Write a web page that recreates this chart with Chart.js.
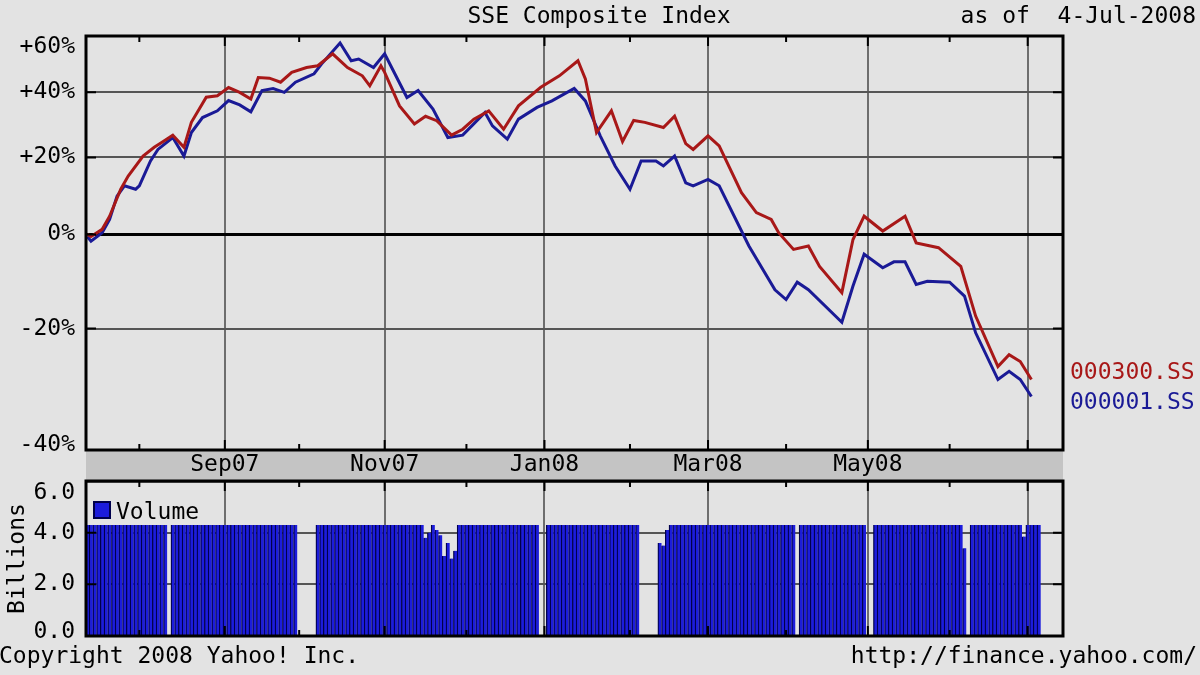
<!DOCTYPE html>
<html>
<head>
<meta charset="utf-8">
<script src="https://cdn.jsdelivr.net/npm/chart.js@4.4.0/dist/chart.umd.min.js"></script>
<style>
  html, body { margin: 0; padding: 0; background: #e3e3e3; }
  #wrap { position: relative; width: 1200px; height: 675px; overflow: hidden; }
  #wrap canvas { position: absolute; left: 0; top: 0; }
</style>
</head>
<body>
<div id="wrap">
  <canvas id="volChart" width="1200" height="675"></canvas>
  <canvas id="idxChart" width="1200" height="675"></canvas>
</div>
<script>
// x axis = weekdays counted from 12-Jul-2007
var monthDays = [14, 37, 57, 80, 102, 123, 146, 167, 188, 210, 232, 253];
var monthLabels = ["", "Sep07", "", "Nov07", "", "Jan08", "", "Mar08", "", "May08", "", ""];
var pctTicks = [-40, -20, 0, 20, 40, 60];
var volTicks = [0, 2, 4, 6];

// 000300.SS, % change
var csi300Days = [0,1,4,6,9,11,15,18,20,23, 26,28,32,35,38,41,44,46,49,52, 55,59,62,66,70,74,76,79,80,84,
  88,91,94,98,101,104,108,112,116,122, 127,132,134,137,141,144,147,150,155,158, 161,163,167,170,176,180,184,186,190,194,
  197,203,206,209,214,220,223,229,235,239, 245,248,251,254];
var csi300Pct = [0,-0.5,1.2,4.4,11.3,14.8,20.4,22.9,24.3,26.5, 22.9,30.4,38.4,38.9,41.6,40.0,37.8,45.0,44.8,43.4,
  46.8,48.5,49.1,53.4,48.5,45.6,42.2,49.1,46.8,35.6, 29.9,32.3,30.9,26.5,28.3,31.4,34.0,28.3,35.6,41.7,
  45.6,50.9,44.5,27.3,34.0,24.6,31.0,30.4,28.8,32.3, 24.0,22.3,26.3,23.3,10.4,5.3,3.6,0.4,-3.5,-2.7,
  -7.3,-12.9,-1.2,4.4,0.8,4.4,-2.0,-3.1,-7.3,-17.6, -26.9,-24.8,-26.0,-29.1];

// 000001.SS, % change
var sseDays = [0,1,4,6,8,10,13,14,17,19, 23,26,28,31,35,38,41,44,47,50, 53,56,61,63,68,71,73,77,80,86,
  89,93,97,101,107,109,113,116,121,125, 131,134,138,142,146,149,153,155,158,161, 163,167,170,178,185,188,191,194,203,206,
  209,214,217,220,223,226,232,236,239,245, 248,251,254];
var ssePct = [-0.5,-1.6,0.4,3.6,9.5,12.2,11.3,12.2,19.0,22.3, 25.8,20.4,27.3,31.9,34.0,37.3,35.9,33.7,40.6,41.3,
  40.0,43.4,46.3,49.7,57.4,50.9,51.5,48.5,53.4,38.3, 40.6,34.6,25.8,26.5,33.5,29.3,25.3,31.4,35.1,37.2,
  41.3,37.2,26.3,17.6,11.3,19.0,19.0,17.6,20.4,13.0, 12.2,13.9,12.2,-2.7,-12.3,-14.3,-10.7,-12.3,-18.8,-11.5,
  -4.6,-7.6,-6.3,-6.3,-11.2,-10.5,-10.7,-13.6,-20.8,-29.1, -27.7,-29.1,-31.9];

// volume (billions), one per weekday, 0 = market closed
var volume = [
  4.3,4.3,4.3,4.3,4.3,4.3,4.3,4.3,4.3,4.3,
  4.3,4.3,4.3,4.3,4.3,4.3,4.3,4.3,4.3,4.3,
  4.3,4.3,0,4.3,4.3,4.3,4.3,4.3,4.3,4.3,
  4.3,4.3,4.3,4.3,4.3,4.3,4.3,4.3,4.3,4.3,
  4.3,4.3,4.3,4.3,4.3,4.3,4.3,4.3,4.3,4.3,
  4.3,4.3,4.3,4.3,4.3,4.3,4.3,0,0,0,
  0,0,4.3,4.3,4.3,4.3,4.3,4.3,4.3,4.3,
  4.3,4.3,4.3,4.3,4.3,4.3,4.3,4.3,4.3,4.3,
  4.3,4.3,4.3,4.3,4.3,4.3,4.3,4.3,4.3,4.3,
  4.3,3.8,4.0,4.3,4.1,3.9,3.1,3.6,3.0,3.3,
  4.3,4.3,4.3,4.3,4.3,4.3,4.3,4.3,4.3,4.3,
  4.3,4.3,4.3,4.3,4.3,4.3,4.3,4.3,4.3,4.3,
  4.3,4.3,0,0,4.3,4.3,4.3,4.3,4.3,4.3,
  4.3,4.3,4.3,4.3,4.3,4.3,4.3,4.3,4.3,4.3,
  4.3,4.3,4.3,4.3,4.3,4.3,4.3,4.3,4.3,0,
  0,0,0,0,3.6,3.5,4.1,4.3,4.3,4.3,
  4.3,4.3,4.3,4.3,4.3,4.3,4.3,4.3,4.3,4.3,
  4.3,4.3,4.3,4.3,4.3,4.3,4.3,4.3,4.3,4.3,
  4.3,4.3,4.3,4.3,4.3,4.3,4.3,4.3,4.3,4.3,
  4.3,0,4.3,4.3,4.3,4.3,4.3,4.3,4.3,4.3,
  4.3,4.3,4.3,4.3,4.3,4.3,4.3,4.3,4.3,4.3,
  0,0,4.3,4.3,4.3,4.3,4.3,4.3,4.3,4.3,
  4.3,4.3,4.3,4.3,4.3,4.3,4.3,4.3,4.3,4.3,
  4.3,4.3,4.3,4.3,4.3,4.3,3.4,0,4.3,4.3,
  4.3,4.3,4.3,4.3,4.3,4.3,4.3,4.3,4.3,4.3,
  4.3,4.3,3.85,4.3,4.3,4.3,4.3
];

var MONO = "'DejaVu Sans Mono', monospace";
var FONT = "23px " + MONO;
var RED = "#a81818";
var BLUE = "#1a1a96";
var xMin = -0.35, xMax = 262.5;

Chart.defaults.font.family = MONO;
Chart.defaults.font.size = 23;
Chart.defaults.color = "#000";

// black frame, tick marks, grey date band and clamped y labels
var yahooFrame = {
  id: "yahooFrame",
  beforeDraw: function (chart, args, o) {
    var a = chart.chartArea, ctx = chart.ctx;
    if (o.band) {
      ctx.save();
      ctx.fillStyle = "#c4c4c4";
      ctx.fillRect(a.left, a.bottom, a.right - a.left, o.band);
      ctx.restore();
    }
  },
  afterDraw: function (chart, args, o) {
    var a = chart.chartArea, ctx = chart.ctx;
    var xs = chart.scales.x, ys = chart.scales.y;
    ctx.save();
    ctx.strokeStyle = "#000";
    ctx.lineWidth = 2;
    ctx.beginPath();
    monthDays.forEach(function (d, i) {
      var px = xs.getPixelForValue(d);
      var len = i % 2 === 1 ? 10 : 6;
      ctx.moveTo(px, a.top); ctx.lineTo(px, a.top + len);
      ctx.moveTo(px, a.bottom); ctx.lineTo(px, a.bottom - len);
    });
    ys.ticks.forEach(function (t) {
      var py = ys.getPixelForValue(t.value);
      if (py > a.top + 3 && py < a.bottom - 3) {
        ctx.moveTo(a.left, py); ctx.lineTo(a.left + 10, py);
        ctx.moveTo(a.right, py); ctx.lineTo(a.right - 10, py);
      }
    });
    ctx.stroke();
    ctx.lineWidth = 3;
    ctx.strokeRect(a.left, a.top, a.right - a.left, a.bottom - a.top);
    if (o.band) {
      ctx.beginPath();
      ctx.moveTo(a.left, a.bottom + o.band);
      ctx.lineTo(a.right, a.bottom + o.band);
      ctx.stroke();
    }
    // y labels, kept inside the plot height like the original
    ctx.font = FONT;
    ctx.fillStyle = "#000";
    ctx.textAlign = "right";
    ctx.textBaseline = "middle";
    var cb = ys.options.ticks.callback;
    ys.ticks.forEach(function (t, i) {
      var py = ys.getPixelForValue(t.value);
      py = Math.min(Math.max(py, a.top + o.padTop), a.bottom - o.padBottom);
      ctx.fillText(cb.call(ys, t.value, i, ys.ticks), a.left - 11, py);
    });
    ctx.restore();
  }
};

var topTexts = {
  id: "topTexts",
  afterDraw: function (chart) {
    var ctx = chart.ctx, a = chart.chartArea;
    ctx.save();
    ctx.font = FONT;
    ctx.textBaseline = "middle";
    ctx.fillStyle = "#000";
    ctx.textAlign = "center";
    ctx.fillText("SSE Composite Index", 599, 17);
    ctx.textAlign = "right";
    ctx.fillText("as of  4-Jul-2008", 1196, 17);
    // series names at the right, next to the last value
    var items = chart.data.datasets.map(function (ds, i) {
      var pts = chart.getDatasetMeta(i).data;
      return { text: ds.label, color: ds.borderColor, y: pts[pts.length - 1].y };
    }).sort(function (p, q) { return p.y - q.y; });
    for (var k = 1; k < items.length; k++) {
      var gap = items[k].y - items[k - 1].y;
      if (gap < 30) {
        var d = (30 - gap) / 2;
        items[k - 1].y -= d;
        items[k].y += d;
      }
    }
    ctx.textAlign = "left";
    items.forEach(function (it) {
      ctx.fillStyle = it.color;
      ctx.fillText(it.text, a.right + 7, it.y);
    });
    ctx.restore();
  }
};

var volTexts = {
  id: "volTexts",
  afterDraw: function (chart) {
    var ctx = chart.ctx, a = chart.chartArea;
    var ds = chart.data.datasets[0];
    ctx.save();
    ctx.fillStyle = ds.backgroundColor;
    ctx.fillRect(a.left + 8, a.top + 21, 16, 16);
    ctx.strokeStyle = ds.borderColor;
    ctx.lineWidth = 2;
    ctx.strokeRect(a.left + 8, a.top + 21, 16, 16);
    ctx.font = FONT;
    ctx.textBaseline = "middle";
    ctx.fillStyle = "#000";
    ctx.textAlign = "left";
    ctx.fillText(ds.label, a.left + 30, a.top + 32);
    ctx.fillText("Copyright 2008 Yahoo! Inc.", -1, 657);
    ctx.textAlign = "right";
    ctx.fillText("http://finance.yahoo.com/", 1197, 657);
    ctx.restore();
  }
};

function monthGridColor(ctx) {
  return ctx.index % 2 === 1 ? "#6e6e6e" : "rgba(0,0,0,0)";
}

new Chart(document.getElementById("idxChart"), {
  type: "line",
  data: {
    datasets: [
      {
        label: "000300.SS",
        borderColor: RED,
        borderWidth: 3,
        pointRadius: 0,
        data: csi300Days.map(function (d, k) { return { x: d, y: 1 + csi300Pct[k] / 100 }; }),
      },
      {
        label: "000001.SS",
        borderColor: BLUE,
        borderWidth: 3,
        pointRadius: 0,
        data: sseDays.map(function (d, k) { return { x: d, y: 1 + ssePct[k] / 100 }; }),
      },
    ],
  },
  options: {
    responsive: false,
    animation: false,
    layout: { padding: { top: 36, right: 137, bottom: 194, left: 0 } },
    plugins: {
      legend: { display: false },
      tooltip: { enabled: false },
      yahooFrame: { band: 31, padTop: 11, padBottom: 5 },
    },
    scales: {
      x: {
        type: "linear",
        min: xMin,
        max: xMax,
        afterBuildTicks: function (s) {
          s.ticks = monthDays.map(function (d) { return { value: d }; });
        },
        afterFit: function (s) { s.height = 31; },
        grid: { color: monthGridColor, lineWidth: 2, drawTicks: false },
        border: { display: false },
        ticks: {
          autoSkip: false,
          maxRotation: 0,
          padding: 1,
          callback: function (v, i) { return monthLabels[i]; },
        },
      },
      y: {
        type: "logarithmic",
        min: 0.6,
        max: 1.6,
        afterBuildTicks: function (s) {
          s.ticks = pctTicks.map(function (p) { return { value: 1 + p / 100 }; });
        },
        afterFit: function (s) { s.width = 86; },
        grid: {
          drawTicks: false,
          color: function (c) {
            var v = c.tick.value;
            if (v < 0.61 || v > 1.59) return "rgba(0,0,0,0)";
            return Math.abs(v - 1) < 1e-6 ? "#000" : "#555";
          },
          lineWidth: function (c) { return Math.abs(c.tick.value - 1) < 1e-6 ? 3 : 2; },
        },
        border: { display: false },
        ticks: {
          display: false,
          callback: function (v) {
            var p = Math.round((v - 1) * 100);
            return (p > 0 ? "+" : "") + p + "%";
          },
        },
      },
    },
  },
  plugins: [yahooFrame, topTexts],
});

new Chart(document.getElementById("volChart"), {
  type: "bar",
  data: {
    datasets: [
      {
        label: "Volume",
        backgroundColor: "#1c1cdc",
        borderColor: "#00004c",
        borderWidth: { left: 1.3, right: 0, top: 0, bottom: 0 },
        borderSkipped: false,
        barPercentage: 1,
        categoryPercentage: 1,
        data: volume.map(function (v, i) { return { x: i, y: v }; }),
      },
    ],
  },
  options: {
    responsive: false,
    animation: false,
    layout: { padding: { top: 481, right: 137, bottom: 39, left: 0 } },
    plugins: {
      legend: { display: false },
      tooltip: { enabled: false },
      yahooFrame: { band: 0, padTop: 12, padBottom: 4 },
    },
    scales: {
      x: {
        type: "linear",
        min: xMin,
        max: xMax,
        offset: false,
        afterBuildTicks: function (s) {
          s.ticks = monthDays.map(function (d) { return { value: d }; });
        },
        afterFit: function (s) { s.height = 0; },
        grid: { color: monthGridColor, lineWidth: 2, drawTicks: false, offset: false },
        border: { display: false },
        ticks: { display: false },
      },
      y: {
        min: 0,
        max: 6,
        z: 1,
        afterBuildTicks: function (s) {
          s.ticks = volTicks.map(function (v) { return { value: v }; });
        },
        afterFit: function (s) { s.width = 86; },
        title: { display: true, text: "Billions", padding: { top: 4, bottom: 0 } },
        grid: {
          drawTicks: false,
          color: function (c) {
            var v = c.tick.value;
            return v > 0 && v < 6 ? "#555" : "rgba(0,0,0,0)";
          },
          lineWidth: 2,
        },
        border: { display: false },
        ticks: {
          display: false,
          callback: function (v) { return v.toFixed(1); },
        },
      },
    },
  },
  plugins: [yahooFrame, volTexts],
});
</script>
</body>
</html>
